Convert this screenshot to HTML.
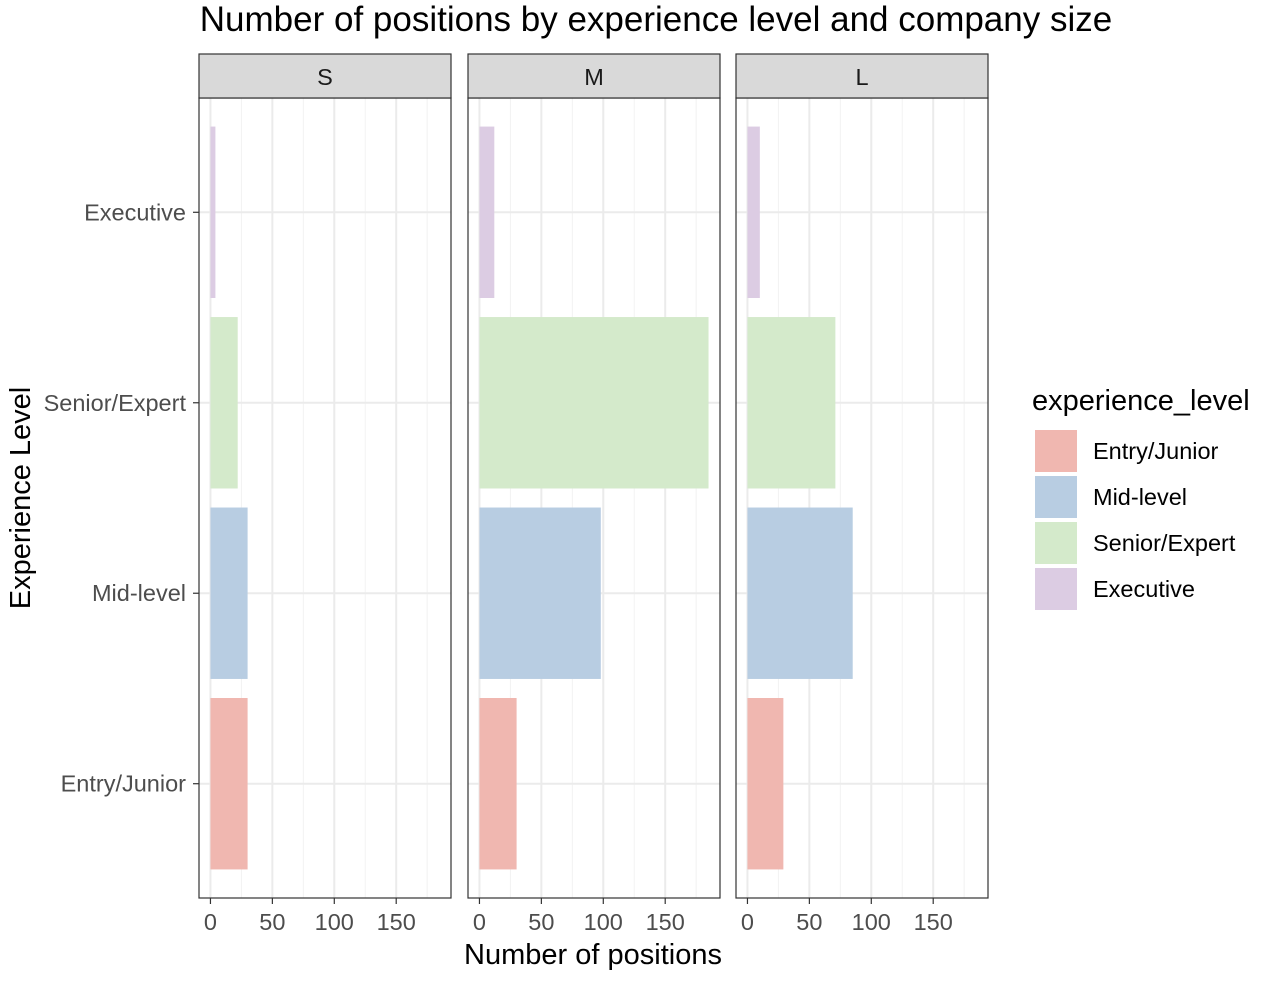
<!DOCTYPE html>
<html><head><meta charset="utf-8"><style>
body{margin:0;background:#fff;font-family:"Liberation Sans",Arial,sans-serif}
</style></head><body>
<svg id="chart" width="1266" height="980" xmlns="http://www.w3.org/2000/svg" font-family="Liberation Sans, Arial, sans-serif">
<text x="656" y="31" font-size="35" text-anchor="middle" fill="#000">Number of positions by experience level and company size</text>
<text x="593" y="964" font-size="29" text-anchor="middle" fill="#000">Number of positions</text>
<text transform="translate(30,498) rotate(-90)" font-size="29" text-anchor="middle" fill="#000">Experience Level</text>
<g id="panels"></g>
<g id="legend">
<text x="1032" y="410" font-size="29" fill="#000">experience_level</text>
</g>
</svg>
<script>
const categories=["Entry/Junior","Mid-level","Senior/Expert","Executive"];
const sizes=["S","M","L"];
const valuesS=[30,30,22,4];
const valuesM=[30,98,185,12];
const valuesL=[29,85,71,10];
const xTicks=[0,50,100,150];
const colors=["#F0B7B0","#B8CDE2","#D4EACB","#DCCCE3"];
const allValues=[valuesS,valuesM,valuesL];
const NS="http://www.w3.org/2000/svg";
const g=document.getElementById('panels');
const panelLeft=[199,468,736], panelW=252, plotTop=98, plotBottom=898;
const xMax=185, pad=xMax*0.05;
function xs(p,v){return panelLeft[p]+(v+pad)/(xMax+2*pad)*panelW;}
const step=(plotBottom-plotTop)/(categories.length-1+1.2);
function ys(i){return plotBottom-step*(i+0.6);}
function mk(tag,attrs,parent){const e=document.createElementNS(NS,tag);for(const k in attrs)e.setAttribute(k,attrs[k]);(parent||g).appendChild(e);return e;}
sizes.forEach((s,p)=>{
  const L=panelLeft[p];
  for(let v=25;v<=xMax+pad;v+=50){const x=xs(p,v);if(x<L+panelW)mk('line',{x1:x,x2:x,y1:plotTop,y2:plotBottom,stroke:'#F2F2F2','stroke-width':1});}
  xTicks.forEach(v=>{const x=xs(p,v);mk('line',{x1:x,x2:x,y1:plotTop,y2:plotBottom,stroke:'#EBEBEB','stroke-width':2});});
  categories.forEach((c,i)=>mk('line',{x1:L,x2:L+panelW,y1:ys(i),y2:ys(i),stroke:'#EBEBEB','stroke-width':2}));
  allValues[p].forEach((v,i)=>{
    const r=mk('rect',{x:xs(p,0),y:ys(i)-step*0.45,width:xs(p,v)-xs(p,0),height:step*0.9,fill:colors[i]});
    
    
  });
  mk('rect',{x:L,y:plotTop,width:panelW,height:plotBottom-plotTop,fill:'none',stroke:'#333','stroke-width':1.2});
  const st=mk('rect',{x:L,y:54,width:panelW,height:44,fill:'#D9D9D9',stroke:'#333','stroke-width':1.2});
  
  
  const t=mk('text',{x:L+panelW/2,y:85,'font-size':23.5,'text-anchor':'middle',fill:'#1A1A1A'});t.textContent=s;
  
  
  xTicks.forEach(v=>{const x=xs(p,v);mk('line',{x1:x,x2:x,y1:plotBottom,y2:plotBottom+6,stroke:'#333','stroke-width':1.2});
    const tt=mk('text',{x:x,y:930,'font-size':23.5,'text-anchor':'middle',fill:'#4D4D4D'});tt.textContent=v;
    
    });
});
categories.forEach((c,i)=>{
  mk('line',{x1:193,x2:199,y1:ys(i),y2:ys(i),stroke:'#333','stroke-width':1.2});
  const t=mk('text',{x:186,y:ys(i)+8,'font-size':23.5,'text-anchor':'end',fill:'#4D4D4D'});t.textContent=c;
  
  
});
const lg=document.getElementById('legend');
categories.forEach((c,i)=>{
  const y=430+i*46;
  const r=mk('rect',{x:1035,y:y,width:42,height:42,fill:colors[i]},lg);
  
  
  const t=mk('text',{x:1093,y:y+29,'font-size':23.5,fill:'#000'},lg);t.textContent=c;
  
  
});
</script>
</body></html>
